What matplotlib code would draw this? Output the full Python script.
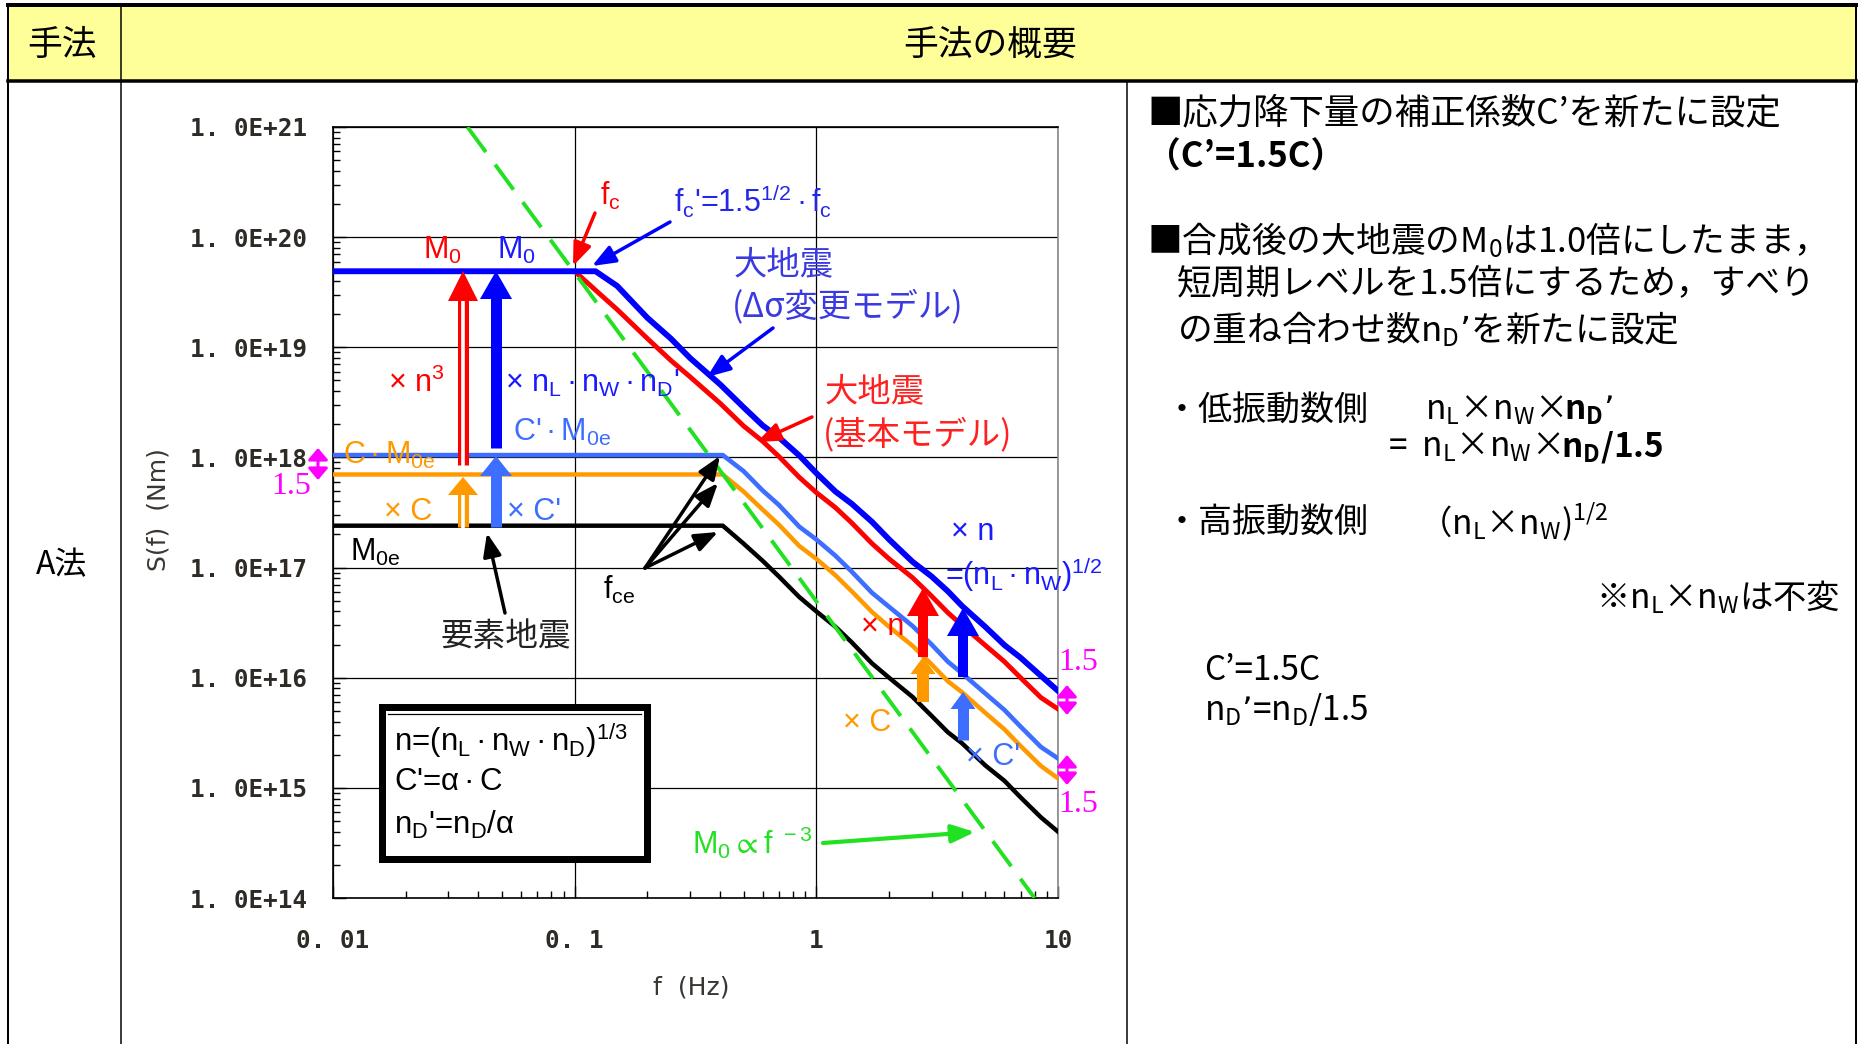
import numpy as np
import matplotlib
matplotlib.use('Agg')
import matplotlib.pyplot as plt
from matplotlib.patches import Polygon, Rectangle
from matplotlib.ticker import LogLocator, NullFormatter

plt.rcParams['font.family'] = ['Liberation Sans', 'DejaVu Sans', 'Noto Sans CJK JP']
plt.rcParams['mathtext.default'] = 'regular'
LAT = ['Liberation Sans', 'DejaVu Sans', 'Noto Sans CJK JP']
JP = ['Noto Sans CJK JP', 'DejaVu Sans']
MONO = ['DejaVu Sans Mono', 'DejaVu Sans']
SERIF = ['Liberation Serif', 'DejaVu Serif']

# ---------------- data ----------------
freq_large = [0.01, 0.1, 0.122, 0.15, 0.2, 0.25, 0.3, 0.4, 0.5, 0.6, 0.7, 0.85, 1.0, 1.2, 1.4,
              1.7, 2.0, 2.5, 3.0, 3.5, 4.0, 5.0, 6.0, 7.0, 8.5, 10.0]
s_blue = [4.9e19, 4.9e19, 4.9e19, 3.6e19, 1.85e19, 1.2e19, 8.0e18, 4.6e18, 2.85e18, 1.95e18,
          1.52e18, 1.04e18, 7.2e17, 4.9e17, 3.8e17, 2.6e17, 1.8e17, 1.13e17, 8.3e16, 6.1e16,
          4.5e16, 2.9e16, 1.98e16, 1.52e16, 1.04e16, 7.6e15]
s_red = [4.9e19, 4.9e19, 3.3e19, 2.2e19, 1.2e19, 7.6e18, 5.4e18, 3.1e18, 1.93e18, 1.4e18,
         1.02e18, 6.6e17, 4.8e17, 3.5e17, 2.55e17, 1.65e17, 1.2e17, 8.1e16, 5.5e16, 3.9e16,
         3.0e16, 1.97e16, 1.4e16, 1.0e16, 6.6e15, 5.2e15]
freq_small = [0.01, 0.41, 0.5, 0.6, 0.7, 0.85, 1.0, 1.2, 1.4, 1.7, 2.0, 2.5, 3.0, 3.5, 4.0,
              5.0, 6.0, 7.0, 8.5, 10.0]
s_lightblue = [1.05e18, 1.05e18, 7.5e17, 5.0e17, 3.7e17, 2.35e17, 1.8e17, 1.28e17, 9.2e16, 5.9e16,
               4.4e16, 2.95e16, 2.0e16, 1.4e16, 1.1e16, 7.2e15, 5.1e15, 3.6e15, 2.35e15, 1.85e15]
s_orange = [7.0e17, 7.0e17, 4.9e17, 3.35e17, 2.45e17, 1.57e17, 1.2e17, 8.5e16, 6.1e16, 3.95e16,
            2.9e16, 1.95e16, 1.32e16, 9.3e15, 7.4e15, 4.8e15, 3.4e15, 2.4e15, 1.58e15, 1.22e15]
s_black = [2.4e17, 2.4e17, 1.65e17, 1.15e17, 8.3e16, 5.4e16, 4.0e16, 2.9e16, 2.1e16, 1.35e16,
           1.0e16, 6.7e15, 4.5e15, 3.2e15, 2.55e15, 1.6e15, 1.16e15, 8.2e14, 5.4e14, 4.0e14]
green_f = [0.036, 8.0]
green_s = [1e21, 1e14]

ytick_vals = [1e14, 1e15, 1e16, 1e17, 1e18, 1e19, 1e20, 1e21]
ytick_labels = ['1. 0E+14', '1. 0E+15', '1. 0E+16', '1. 0E+17', '1. 0E+18', '1. 0E+19', '1. 0E+20', '1. 0E+21']
xtick_vals = [0.01, 0.1, 1, 10]
xtick_labels = ['0. 01', '0. 1', '1', '10']

C_BLUE = '#0000ff'
C_RED = '#ff0000'
C_LBLUE = '#3d6eff'
C_ORANGE = '#ff9900'
C_GREEN = '#22e022'
C_MAG = '#ff00ff'
PT = 0.72  # points per pixel at dpi 100

fig = plt.figure(figsize=(18.6, 10.44), dpi=100)

# ---------------- table background ----------------
bg = fig.add_axes([0, 0, 1, 1])
bg.set_xlim(0, 1860); bg.set_ylim(1044, 0); bg.axis('off')
bg.add_patch(Rectangle((8, 5), 1848, 76, fc='#ffff99', ec='none'))
bg.plot([8, 1856], [5, 5], color='k', lw=4 * PT)
bg.plot([8, 1856], [81, 81], color='k', lw=3.5 * PT)
bg.plot([8, 8], [5, 1044], color='k', lw=2 * PT)
bg.plot([1856, 1856], [5, 1044], color='k', lw=2 * PT)
bg.plot([121, 121], [5, 1044], color='k', lw=1.5 * PT)
bg.plot([1127, 1127], [81, 1044], color='k', lw=1.5 * PT)

# ---------------- chart ----------------
ax = fig.add_axes([333 / 1860, 1 - 898 / 1044, (1058 - 333) / 1860, (898 - 127) / 1044])
ax.set_xscale('log'); ax.set_yscale('log')
ax.set_xlim(0.01, 10); ax.set_ylim(1e14, 1e21)

ax.plot(freq_small, s_black, color='k', lw=3.2, solid_joinstyle='round', zorder=3)
ax.plot(freq_small, s_orange, color=C_ORANGE, lw=3.2, solid_joinstyle='round', zorder=3)
ax.plot(freq_small, s_lightblue, color=C_LBLUE, lw=3.3, solid_joinstyle='round', zorder=3)
ax.plot(freq_large, s_red, color=C_RED, lw=3.5, solid_joinstyle='round', zorder=3)
ax.plot(freq_large, s_blue, color=C_BLUE, lw=4.2, solid_joinstyle='round', zorder=4)
ax.plot(green_f, green_s, color=C_GREEN, lw=2.8, dashes=(8, 4), zorder=5)

ax.set_xticks(xtick_vals); ax.set_xticklabels(xtick_labels)
ax.set_yticks(ytick_vals); ax.set_yticklabels(ytick_labels)
ax.xaxis.set_minor_locator(LogLocator(base=10, subs=np.arange(2, 10), numticks=100))
ax.yaxis.set_minor_locator(LogLocator(base=10, subs=np.arange(2, 10), numticks=100))
ax.xaxis.set_minor_formatter(NullFormatter()); ax.yaxis.set_minor_formatter(NullFormatter())
ax.tick_params(which='both', direction='in', top=False, right=False, width=1, color='k')
ax.tick_params(which='major', length=9)
ax.tick_params(which='minor', length=5)
ax.tick_params(axis='y', pad=19, labelsize=17.5, labelcolor='#2e2a26')
ax.tick_params(axis='x', pad=22, labelsize=17.5, labelcolor='#2e2a26')
for lab in ax.get_xticklabels() + ax.get_yticklabels():
    lab.set_family(MONO)
    lab.set_fontweight('bold')
ax.grid(which='major', color='k', lw=0.9)
for s in ['left', 'bottom', 'top']:
    ax.spines[s].set_color('k'); ax.spines[s].set_linewidth(1.2)
ax.spines['right'].set_color('#888888'); ax.spines['right'].set_linewidth(1.2)

# ---------------- overlay (pixel coordinates) ----------------
ov = fig.add_axes([0, 0, 1, 1], facecolor='none')
ov.set_xlim(0, 1860); ov.set_ylim(1044, 0); ov.axis('off')
renderer = fig.canvas.get_renderer()


def T(x, y, s, size=22, color='k', ha='left', va='center', family=None, **kw):
    return ov.text(x, y, s, fontsize=size, color=color, ha=ha, va=va,
                   family=family if family is not None else LAT, **kw)


def seq(x, y, parts, size=24, color='k', family=None):
    for s, w in parts:
        t = T(x, y, s, size=size, color=color, family=family, fontweight=w)
        x += t.get_window_extent(renderer).width


def varrow(x, y0, y1, color, shaft, hw, hl, hollow=False):
    ov.plot([x, x], [y0, y1 + hl * 0.8], color=color, lw=shaft * PT, solid_capstyle='butt', zorder=6)
    if hollow:
        ov.plot([x, x], [y0 + 1, y1 + hl * 0.8], color='white', lw=shaft * 0.33 * PT,
                solid_capstyle='butt', zorder=6)
    ov.add_patch(Polygon([[x - hw / 2, y1 + hl], [x + hw / 2, y1 + hl], [x, y1]],
                         closed=True, fc=color, ec='none', zorder=7))


def larrow(x0, y0, x1, y1, color, lw=2.5, hl=14, hw=5.5):
    ov.annotate('', xy=(x1, y1), xytext=(x0, y0),
                arrowprops=dict(arrowstyle='-|>,head_length=%g,head_width=%g' % (hl, hw),
                                color=color, lw=lw, shrinkA=0, shrinkB=0, mutation_scale=1), zorder=6)


def darrow(x, y0, y1, color):
    ov.annotate('', xy=(x, y1), xytext=(x, y0),
                arrowprops=dict(arrowstyle='<|-|>,head_length=7,head_width=6',
                                color=color, lw=2.2, shrinkA=0, shrinkB=0, mutation_scale=1), zorder=6)


D = '$\\,$·$\\,$'  # thin-spaced middle dot

# header
T(62, 45, '手法', 25, family=JP, ha='center')
T(990, 45, '手法の概要', 25, family=JP, ha='center')
T(62, 565, 'A法', 23, family=JP, ha='center')

# right column text
T(1147, 113, '■応力降下量の補正係数C’を新たに設定', 25.5, family=JP)
T(1146, 157, '（C’=1.5C）', 25, family=JP, fontweight='bold')
T(1147, 240, '■合成後の大地震のM$_0$は1.0倍にしたまま，', 25, family=JP)
T(1177, 285, '短周期レベルを1.5倍にするため，すべり', 25, family=JP)
T(1177, 329, 'の重ね合わせ数n$_D$’を新たに設定', 25, family=JP)
T(1165, 410, '・低振動数側', 24.5, family=JP)
seq(1425, 410, [('n$_L$×n$_W$×', 'normal'), ('n$_D$’', 'bold')], 24, family=JP)
seq(1388, 447, [('=  n$_L$×n$_W$×', 'normal'), ('n$_D$/1.5', 'bold')], 24, family=JP)
T(1165, 522, '・高振動数側', 24.5, family=JP)
T(1418, 522, '（n$_L$×n$_W$)$^{1/2}$', 24, family=JP)
T(1840, 597, '※n$_L$×n$_W$は不変', 24, family=JP, ha='right')
T(1204, 671, 'C’=1.5C', 24, family=JP)
T(1204, 709, 'n$_D$’=n$_D$/1.5', 24, family=JP)

# axis titles
T(691, 988, 'f  (Hz)', 18, color='#3a3632', ha='center', family=['DejaVu Sans'])
T(158, 510, 'S(f)  (Nm)', 18, color='#3a3632', ha='center', family=['DejaVu Sans'], rotation=90)

# chart annotations
T(423, 250, 'M$_0$', 22, C_RED)
T(497, 250, 'M$_0$', 22, '#1a1aff')
T(600, 196, 'f$_c$', 22, C_RED)
T(674, 201, "f$_c$'=1.5$^{1/2}$" + D + "f$_c$", 22, '#2626e6')
T(734, 265, '大地震', 24, '#3a3ae0', family=JP)
T(732, 307, '(Δσ変更モデル)', 24, '#3a3ae0', family=JP)
T(825, 392, '大地震', 24, '#ff2020', family=JP)
T(823, 435, '(基本モデル)', 24, '#ff2020', family=JP)
T(388, 383, '× n$^3$', 22, C_RED)
T(505, 383, "× n$_L$" + D + "n$_W$" + D + "n$_D$'", 22, '#1a1aff')
T(513, 432, "C'" + D + "M$_{0e}$", 22, C_LBLUE)
T(343, 455, 'C' + D + 'M$_{0e}$', 22, C_ORANGE)
T(384, 512, '× C', 22, C_ORANGE)
T(507, 512, "× C'", 22, C_LBLUE)
T(350, 552, 'M$_{0e}$', 22, 'k')
T(440, 637, '要素地震', 23.5, '#222222', family=JP)
T(603, 590, 'f$_{ce}$', 22, 'k')
T(692, 843, 'M$_0$$\\propto$f$^{\\ -3}$', 22, C_GREEN)
T(951, 532, '× n', 22, '#1a1aff')
T(945, 575, '=(n$_L$' + D + 'n$_W$)$^{1/2}$', 22, '#1a1aff')
T(861, 627, '× n', 22, C_RED)
T(843, 723, '× C', 22, C_ORANGE)
T(966, 757, "× C'", 22, C_LBLUE)
T(1058, 662, '1.5', 23, C_MAG, family=SERIF)
T(1058, 805, '1.5', 23, C_MAG, family=SERIF)
T(291, 487, '1.5', 23, C_MAG, ha='center', family=SERIF)

# formula box
ov.add_patch(Rectangle((382, 707), 265, 152, fc='white', ec='k', lw=7 * PT, zorder=5))
ov.plot([388, 641], [714, 714], color='k', lw=1.2 * PT, zorder=6)
T(394, 740, 'n=(n$_L$' + D + 'n$_W$' + D + 'n$_D$)$^{1/3}$', 22.5, 'k', zorder=8)
T(394, 782, "C'=α" + D + "C", 22.5, 'k', zorder=8)
T(394, 825, "n$_D$'=n$_D$/α", 22.5, 'k', zorder=8)

# vertical arrows (left)
varrow(463, 465, 271, C_RED, 11, 30, 30, hollow=True)
varrow(496, 448, 271, C_BLUE, 11, 32, 28)
varrow(463, 527, 477, C_ORANGE, 11, 30, 18, hollow=True)
varrow(496, 527, 456, C_LBLUE, 11, 32, 20)
# vertical arrows (right)
varrow(923, 657, 588, C_RED, 10, 32, 28)
varrow(923, 702, 657, C_ORANGE, 12, 25, 17)
varrow(963, 677, 608, C_BLUE, 10, 32, 28)
varrow(963, 740, 692, C_LBLUE, 11, 25, 17)

# pointer arrows
larrow(595, 213, 573, 266, C_RED)
larrow(670, 222, 592, 266, C_BLUE)
larrow(773, 328, 707, 377, C_BLUE)
larrow(812, 417, 757, 442, C_RED)
larrow(505, 613, 487, 533, 'k')
larrow(645, 568, 720, 456, 'k')
larrow(645, 568, 718, 483, 'k')
larrow(645, 568, 718, 532, 'k')
larrow(823, 843, 975, 832, C_GREEN, lw=3)

# magenta double arrows
darrow(1067, 715, 685, C_MAG)
darrow(1067, 785, 755, C_MAG)
darrow(318, 480, 448, C_MAG)

fig.savefig('out.png', dpi=100)
